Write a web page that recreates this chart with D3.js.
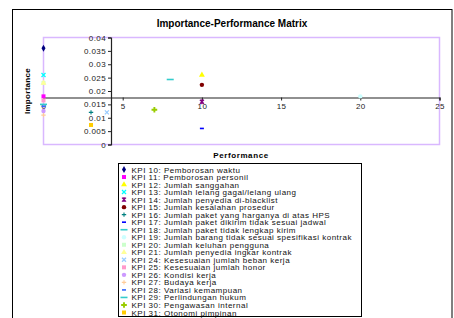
<!DOCTYPE html>
<html>
<head>
<meta charset="utf-8">
<script src="https://cdn.jsdelivr.net/npm/d3@7"></script>
<style>
  body { margin: 0; background: #fff; }
  svg text { font-family: "Liberation Sans", Arial, sans-serif; }
</style>
</head>
<body>
<div id="chart"></div>
<script>
// chart data
var kpiLabels = [
  "KPI 10: Pemborosan waktu",
  "KPI 11: Pemborosan personil",
  "KPI 12: Jumlah sanggahan",
  "KPI 13: Jumlah lelang gagal/lelang ulang",
  "KPI 14: Jumlah penyedia di-blacklist",
  "KPI 15: Jumlah kesalahan prosedur",
  "KPI 16: Jumlah paket yang harganya di atas HPS",
  "KPI 17: Jumlah paket dikirim tidak sesuai jadwal",
  "KPI 18: Jumlah paket tidak lengkap kirim",
  "KPI 19: Jumlah barang tidak sesuai spesifikasi kontrak",
  "KPI 20: Jumlah keluhan pengguna",
  "KPI 21: Jumlah penyedia ingkar kontrak",
  "KPI 24: Kesesuaian jumlah beban kerja",
  "KPI 25: Kesesuaian jumlah honor",
  "KPI 26: Kondisi kerja",
  "KPI 27: Budaya kerja",
  "KPI 28: Variasi kemampuan",
  "KPI 29: Perlindungan hukum",
  "KPI 30: Pengawasan internal",
  "KPI 31: Otonomi pimpinan"
];
var performance = [0, 0, 10, 0, 10, 10, 3, 10, 8, 20, 0, 0, 4, 0, 0, 0, 0, 0, 7, 3];
var importance = [0.036, 0.018, 0.026, 0.026, 0.016, 0.0223, 0.012, 0.006, 0.0243, 0.018,
                  0.023, 0.023, 0.012, 0.0165, 0.0125, 0.011, 0.0143, 0.015, 0.013, 0.0073];
var xTicks = [0, 5, 10, 15, 20, 25];
var yTicks = [0, 0.005, 0.01, 0.015, 0.02, 0.025, 0.03, 0.035, 0.04];

// excel style series colours and markers
var colors = ["#000080", "#ff00ff", "#ffff00", "#00ffff", "#800080", "#800000", "#008080", "#0000ff",
              "#33cccc", "#ccffff", "#ccffcc", "#ffff99", "#99ccff", "#ff99cc", "#cc99ff", "#ffcc99",
              "#3366ff", "#33cccc", "#99cc00", "#ffcc00"];
var markers = ["diamond", "square", "triangle", "x", "star", "circle", "plus", "dash",
               "longdash", "circle", "square", "triangle", "x", "square", "circle", "plus",
               "dash", "longdash", "cross", "square"];

window.onload = function() {
  var W = 454, H = 318;
  var svg = d3.select("#chart").append("svg")
    .attr("width", W)
    .attr("height", H);

  // outer chart border
  svg.append("rect")
    .attr("x", 12.5).attr("y", 9.5)
    .attr("width", 439.5).attr("height", 330)
    .style("fill", "#fff")
    .style("stroke", "#000")
    .style("stroke-width", 1);

  var x = d3.scaleLinear().domain([0, 25]).range([43.5, 439.5]);
  var y = d3.scaleLinear().domain([0, 0.04]).range([144.5, 37.5]);

  // plot area border
  svg.append("rect")
    .attr("x", x(0)).attr("y", y(0.04))
    .attr("width", x(25) - x(0)).attr("height", y(0) - y(0.04))
    .style("fill", "none")
    .style("stroke", "#d9b8ff")
    .style("stroke-width", 1.5);

  // axes cross at the means
  var xCross = d3.mean(performance);
  var yCross = d3.mean(importance);

  var yAxis = d3.axisLeft(y).tickValues(yTicks).tickSize(3).tickPadding(2)
    .tickFormat(function(d) { return d3.format("")(+d.toFixed(3)); });
  var yG = svg.append("g")
    .attr("transform", "translate(" + Math.round(x(xCross)) + ",0)")
    .call(yAxis);

  var xAxis = d3.axisBottom(x).tickValues(xTicks).tickSize(3).tickPadding(3);
  var xG = svg.append("g")
    .attr("transform", "translate(0," + (Math.round(y(yCross)) + 0.5) + ")")
    .call(xAxis);

  [xG, yG].forEach(function(g) {
    g.select(".domain").style("stroke", "#222").style("stroke-width", 1.2);
    g.selectAll(".tick line").style("stroke", "#222");
    g.selectAll("text")
      .style("font-size", "8px")
      .style("letter-spacing", "0.4px")
      .style("fill", "#222")
      .style("font-family", "'Liberation Sans', Arial, sans-serif");
  });

  // titles
  svg.append("text")
    .attr("x", 232).attr("y", 27)
    .attr("text-anchor", "middle")
    .style("font-size", "10px")
    .style("font-weight", "bold")
    .text("Importance-Performance Matrix");

  svg.append("text")
    .attr("x", 241).attr("y", 158)
    .attr("text-anchor", "middle")
    .style("font-size", "8px")
    .style("letter-spacing", "0.6px")
    .style("font-weight", "bold")
    .text("Performance");

  svg.append("text")
    .attr("transform", "translate(30," + ((y(0) + y(0.04)) / 2) + ")rotate(-90)")
    .attr("text-anchor", "middle")
    .style("font-size", "8px")
    .style("letter-spacing", "0.3px")
    .style("font-weight", "bold")
    .text("Importance");

  // draws one marker shape into g
  function drawMarker(g, type, color) {
    if (type == "diamond") {
      g.append("path").attr("d", d3.symbol(d3.symbolDiamond, 14)()).style("fill", color);
    } else if (type == "square") {
      g.append("rect").attr("x", -2).attr("y", -2).attr("width", 4).attr("height", 4).style("fill", color);
    } else if (type == "triangle") {
      g.append("path").attr("d", d3.symbol(d3.symbolTriangle, 15)()).style("fill", color);
    } else if (type == "circle") {
      g.append("circle").attr("r", 2.2).style("fill", color);
    } else if (type == "x") {
      g.append("path").attr("d", "M-2,-2L2,2M-2,2L2,-2")
        .style("stroke", color).style("stroke-width", 1.3).style("fill", "none");
    } else if (type == "star") {
      g.append("path").attr("d", "M-2,-2L2,2M-2,2L2,-2M0,-2.5L0,2.5")
        .style("stroke", color).style("stroke-width", 1.3).style("fill", "none");
    } else if (type == "plus") {
      g.append("path").attr("d", "M-2.2,0L2.2,0M0,-2.2L0,2.2")
        .style("stroke", color).style("stroke-width", 1.1).style("fill", "none");
    } else if (type == "cross") {
      g.append("path").attr("d", d3.symbol(d3.symbolCross, 18)()).style("fill", color);
    } else if (type == "dash") {
      g.append("rect").attr("x", -2).attr("y", -0.8).attr("width", 4).attr("height", 1.6).style("fill", color);
    } else if (type == "longdash") {
      g.append("rect").attr("x", -3.5).attr("y", -0.8).attr("width", 7).attr("height", 1.6).style("fill", color);
    }
  }

  // points
  var points = svg.append("g").attr("class", "points");
  performance.forEach(function(p, i) {
    var g = points.append("g")
      .attr("transform", "translate(" + x(p) + "," + y(importance[i]) + ")");
    drawMarker(g, markers[i], colors[i]);
  });

  // legend
  var legend = svg.append("g").attr("class", "legend");
  legend.append("rect")
    .attr("x", 118.5).attr("y", 163.5)
    .attr("width", 243).attr("height", 153)
    .style("fill", "#fff")
    .style("stroke", "#000")
    .style("stroke-width", 1);

  var rowY = d3.scaleLinear().domain([0, kpiLabels.length - 1]).range([169.5, 312.5]);
  kpiLabels.forEach(function(label, i) {
    var g = legend.append("g")
      .attr("transform", "translate(124," + rowY(i) + ")");
    drawMarker(g, markers[i], colors[i]);
    legend.append("text")
      .attr("x", 131.5)
      .attr("y", rowY(i) + 3)
      .style("font-size", "8px")
      .style("letter-spacing", "0.5px")
      .style("fill", "#111")
      .text(label);
  });
};
</script>
</body>
</html>
